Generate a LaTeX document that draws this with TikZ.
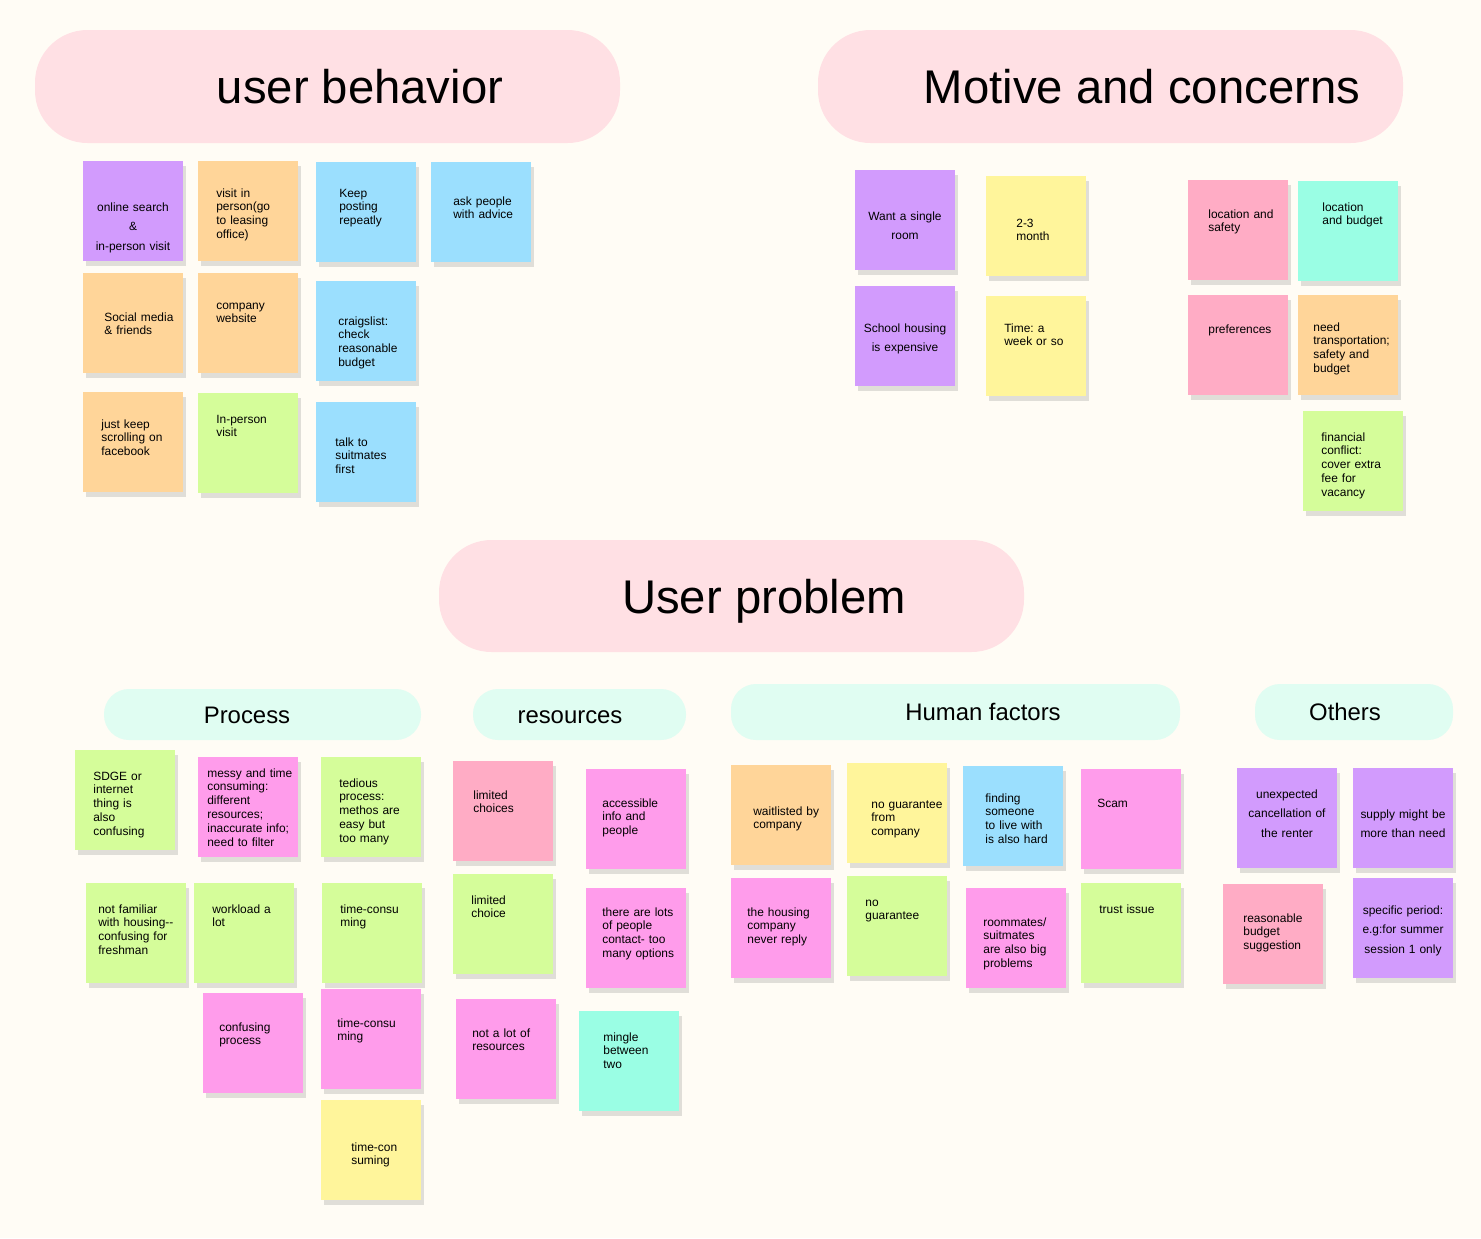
\documentclass[tikz,border=0pt]{standalone}
\usepackage{fontspec}
\setmainfont{Liberation Sans}
\usetikzlibrary{shadows}
\frenchspacing

\definecolor{bgCream}{HTML}{FFFCF5}
\definecolor{headPink}{HTML}{FFE0E4}
\definecolor{headMint}{HTML}{E0FDF2}
\definecolor{nPurple}{HTML}{D29BFD}
\definecolor{nOrange}{HTML}{FFD599}
\definecolor{nBlue}{HTML}{9BDFFE}
\definecolor{nGreen}{HTML}{D5FD9A}
\definecolor{nYellow}{HTML}{FFF59B}
\definecolor{nPink}{HTML}{FFACC5}
\definecolor{nMagenta}{HTML}{FF9CEB}
\definecolor{nTeal}{HTML}{9AFEE4}

\begin{document}
\begin{tikzpicture}[x=0.02cm, y=-0.02cm,
    note/.style={anchor=north west, minimum width=2cm, minimum height=2cm, inner sep=0pt,
      drop shadow={shadow xshift=0.06cm, shadow yshift=-0.09cm, opacity=0.17, fill=black!70}},
    txt/.style={anchor=base west, inner sep=0pt, text width=2.2cm, align=left,
      font=\fontsize{6.8}{7.94}\selectfont},
    ctxt/.style={anchor=base, inner sep=0pt, text width=2cm, align=center,
      font=\fontsize{6.8}{11.34}\selectfont},
    bigpill/.style={fill=headPink, rounded corners=1.05cm},
    smallpill/.style={fill=headMint, rounded corners=0.5cm},
    title/.style={anchor=base, inner sep=0pt, font=\fontsize{26.9}{30}\selectfont},
    subtitle/.style={anchor=base, inner sep=0pt, font=\fontsize{13.6}{16}\selectfont}]
    \useasboundingbox[fill=bgCream] (0,0) rectangle (1481,1238);

    % headers
    \fill[bigpill] (35,30) rectangle (620,143);
    \node[title] (ubTitle) at (360,103) {user behavior};
    \fill[bigpill] (818,30) rectangle (1403,143);
    \node[title] (mcTitle) at (1142,103) {Motive and concerns};
    \fill[bigpill] (439,540) rectangle (1024,652);
    \node[title] (upTitle) at (764,613) {User problem};

    \fill[smallpill] (104,689) rectangle (421,740);
    \node[subtitle] (prTitle) at (247,723) {Process};
    \fill[smallpill] (473,689) rectangle (686,740);
    \node[subtitle] (reTitle) at (570,723) {resources};
    \fill[smallpill] (731,684) rectangle (1180,740);
    \node[subtitle] (huTitle) at (983,720) {Human factors};
    \fill[smallpill] (1255,684) rectangle (1453,740);
    \node[subtitle] (otTitle) at (1345,720) {Others};

    % user behavior
    \node[note, fill=nPurple] (ubOnline) at (83,161) {};
    \node[ctxt] (ubOnlineT) at (133,211) {online search\\\&\\in-person visit};
    \node[note, fill=nOrange] (ubVisit) at (198,161) {};
    \node[txt] (ubVisitT) at (216,197) {visit in\\person(go\\to leasing\\office)};
    \node[note, fill=nBlue] (ubKeep) at (316,162) {};
    \node[txt] (ubKeepT) at (339,197) {Keep\\posting\\repeatly};
    \node[note, fill=nBlue] (ubAsk) at (431,162) {};
    \node[txt] (ubAskT) at (453,205) {ask people\\with advice};
    \node[note, fill=nOrange] (ubSocial) at (83,273) {};
    \node[txt] (ubSocialT) at (104,321) {Social media\\\& friends};
    \node[note, fill=nOrange] (ubCompany) at (198,273) {};
    \node[txt] (ubCompanyT) at (216,309) {company\\website};
    \node[note, fill=nBlue] (ubCraigs) at (316,281) {};
    \node[txt] (ubCraigsT) at (338,325) {craigslist:\\check\\reasonable\\budget};
    \node[note, fill=nOrange] (ubScroll) at (83,392) {};
    \node[txt] (ubScrollT) at (101,428) {just keep\\scrolling on\\facebook};
    \node[note, fill=nGreen] (ubInPerson) at (198,393) {};
    \node[txt] (ubInPersonT) at (216,423) {In-person\\visit};
    \node[note, fill=nBlue] (ubTalk) at (316,402) {};
    \node[txt] (ubTalkT) at (335,446) {talk to\\suitmates\\first};

    % motive and concerns
    \node[note, fill=nPurple] (mcSingle) at (855,170) {};
    \node[ctxt] (mcSingleT) at (905,220) {Want a single\\room};
    \node[note, fill=nPurple] (mcSchool) at (855,286) {};
    \node[ctxt] (mcSchoolT) at (905,332) {School housing\\is expensive};
    \node[note, fill=nYellow] (mcMonth) at (986,176) {};
    \node[txt] (mcMonthT) at (1016,227) {2-3\\month};
    \node[note, fill=nYellow] (mcTime) at (986,296) {};
    \node[txt] (mcTimeT) at (1004,332) {Time: a\\week or so};
    \node[note, fill=nPink] (mcLocSafe) at (1188,180) {};
    \node[txt] (mcLocSafeT) at (1208,218) {location and\\safety};
    \node[note, fill=nTeal] (mcLocBudget) at (1298,181) {};
    \node[txt] (mcLocBudgetT) at (1322,211) {location\\and budget};
    \node[note, fill=nPink] (mcPref) at (1188,295) {};
    \node[txt] (mcPrefT) at (1208,333) {preferences};
    \node[note, fill=nOrange] (mcTransport) at (1298,295) {};
    \node[txt] (mcTransportT) at (1313,331) {need\\transportation;\\safety and\\budget};
    \node[note, fill=nGreen] (mcFinancial) at (1303,411) {};
    \node[txt] (mcFinancialT) at (1321,441) {financial\\conflict:\\cover extra\\fee for\\vacancy};

    % process
    \node[note, fill=nGreen] (prSDGE) at (75,750) {};
    \node[txt] (prSDGET) at (93,780) {SDGE or\\internet\\thing is\\also\\confusing};
    \node[note, fill=nMagenta] (prMessy) at (198,757) {};
    \node[txt] (prMessyT) at (207,777) {messy and time\\consuming:\\different\\resources;\\inaccurate info;\\need to filter};
    \node[note, fill=nGreen] (prTedious) at (321,757) {};
    \node[txt] (prTediousT) at (339,787) {tedious\\process:\\methos are\\easy but\\too many};
    \node[note, fill=nGreen] (prFamiliar) at (86,883) {};
    \node[txt] (prFamiliarT) at (98,913) {not familiar\\with housing{-}{-}\\confusing for\\freshman};
    \node[note, fill=nGreen] (prWorkload) at (194,883) {};
    \node[txt] (prWorkloadT) at (212,913) {workload a\\lot};
    \node[note, fill=nGreen] (prTimeA) at (322,883) {};
    \node[txt] (prTimeAT) at (340,913) {time-consu\\ming};
    \node[note, fill=nMagenta] (prConfusing) at (203,993) {};
    \node[txt] (prConfusingT) at (219,1031) {confusing\\process};
    \node[note, fill=nMagenta] (prTimeB) at (321,989) {};
    \node[txt] (prTimeBT) at (337,1027) {time-consu\\ming};
    \node[note, fill=nYellow] (prTimeC) at (321,1100) {};
    \node[txt] (prTimeCT) at (351,1151) {time-con\\suming};

    % resources
    \node[note, fill=nPink] (reLimitedA) at (453,761) {};
    \node[txt] (reLimitedAT) at (473,799) {limited\\choices};
    \node[note, fill=nMagenta] (reAccess) at (586,769) {};
    \node[txt] (reAccessT) at (602,807) {accessible\\info and\\people};
    \node[note, fill=nGreen] (reLimitedB) at (453,874) {};
    \node[txt] (reLimitedBT) at (471,904) {limited\\choice};
    \node[note, fill=nMagenta] (reLots) at (586,888) {};
    \node[txt] (reLotsT) at (602,916) {there are lots\\of people\\contact- too\\many options};
    \node[note, fill=nMagenta] (reNotALot) at (456,999) {};
    \node[txt] (reNotALotT) at (472,1037) {not a lot of\\resources};
    \node[note, fill=nTeal] (reMingle) at (579,1011) {};
    \node[txt] (reMingleT) at (603,1041) {mingle\\between\\two};

    % human factors
    \node[note, fill=nOrange] (huWait) at (731,765) {};
    \node[txt] (huWaitT) at (753,815) {waitlisted by\\company};
    \node[note, fill=nYellow] (huNoGuarA) at (847,763) {};
    \node[txt] (huNoGuarAT) at (871,808) {no guarantee\\from\\company};
    \node[note, fill=nBlue] (huFinding) at (963,766) {};
    \node[txt] (huFindingT) at (985,802) {finding\\someone\\to live with\\is also hard};
    \node[note, fill=nMagenta] (huScam) at (1081,769) {};
    \node[txt] (huScamT) at (1097,807) {Scam};
    \node[note, fill=nMagenta] (huNever) at (731,878) {};
    \node[txt] (huNeverT) at (747,916) {the housing\\company\\never reply};
    \node[note, fill=nGreen] (huNoGuarB) at (847,876) {};
    \node[txt] (huNoGuarBT) at (865,906) {no\\guarantee};
    \node[note, fill=nMagenta] (huRoommates) at (966,888) {};
    \node[txt] (huRoommatesT) at (983,926) {roommates/\\suitmates\\are also big\\problems};
    \node[note, fill=nGreen] (huTrust) at (1081,883) {};
    \node[txt] (huTrustT) at (1099,913) {trust issue};

    % others
    \node[note, fill=nPurple] (otCancel) at (1237,768) {};
    \node[ctxt] (otCancelT) at (1287,798) {unexpected\\cancellation of\\the renter};
    \node[note, fill=nPurple] (otSupply) at (1353,768) {};
    \node[ctxt] (otSupplyT) at (1403,818) {supply might be\\more than need};
    \node[note, fill=nPink] (otBudget) at (1223,884) {};
    \node[txt] (otBudgetT) at (1243,922) {reasonable\\budget\\suggestion};
    \node[note, fill=nPurple] (otPeriod) at (1353,878) {};
    \node[ctxt] (otPeriodT) at (1403,914) {specific period:\\e.g:for summer\\session 1 only};
\end{tikzpicture}
\end{document}
